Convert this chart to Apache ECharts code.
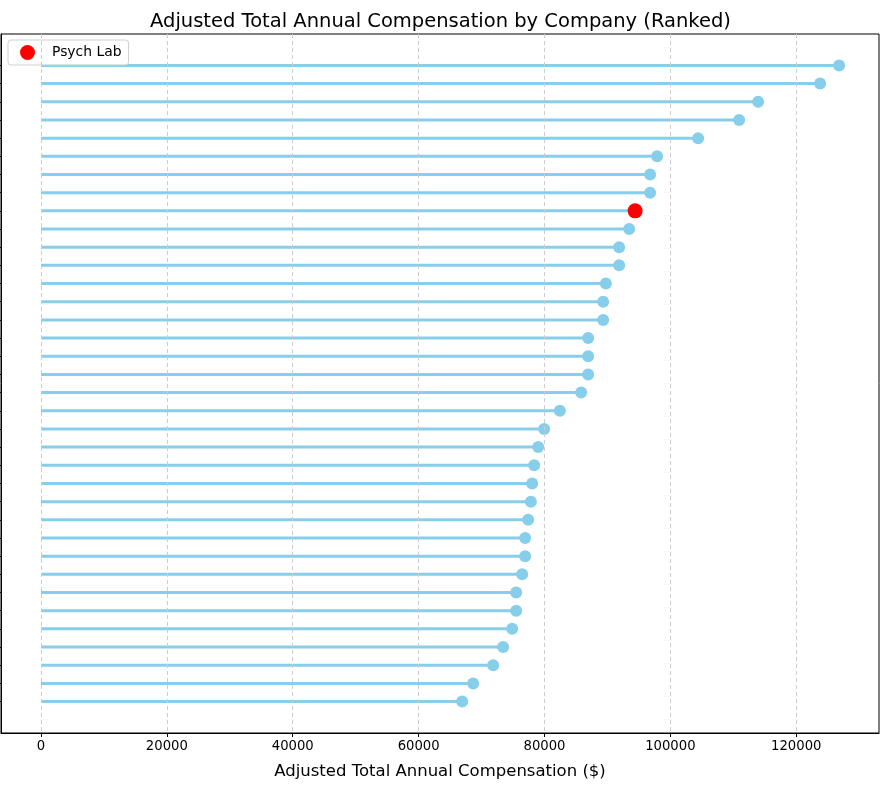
<!DOCTYPE html>
<html>
<head>
<meta charset="utf-8">
<script src="https://cdn.jsdelivr.net/npm/echarts@6/dist/echarts.min.js"></script>
<style>
  html, body { margin: 0; padding: 0; background: #fff; }
  #chart { width: 881px; height: 790px; }
</style>
</head>
<body>
<div id="chart"></div>
<script>
// adjusted compensation, ranked high -> low (top row first)
const compensation = [
  126810, 123792, 113943, 110925, 104412, 97899, 96787, 96787, 94405,
  93452, 91863, 91863, 89750, 89321, 89321, 86939, 86939, 86939,
  85827, 82443, 79949, 78996, 78361, 78043, 77837, 77408, 76931,
  76931, 76455, 75501, 75501, 74866, 73436, 71848, 68671, 66923
];
const highlightName = "Psych Lab";
const highlightRow = 8;
const xTicks = [0, 20000, 40000, 60000, 80000, 100000, 120000];
const rows = compensation.map((v, i) => i);

const stemColor = "#87CEEB";
const fontFamily = "DejaVu Sans";

const points = compensation.map((v, i) => [v, i]);
const regular = points.filter((p, i) => i !== highlightRow);
const highlighted = [points[highlightRow]];

const chart = echarts.init(document.getElementById("chart"));

chart.setOption({
  backgroundColor: "#fff",
  animation: false,
  title: {
    text: "Adjusted Total Annual Compensation by Company (Ranked)",
    left: "center",
    top: 7,
    textStyle: { fontFamily, fontSize: 19.5, fontWeight: "normal", color: "#000" },
  },
  legend: {
    data: [highlightName],
    left: 8,
    top: 40,
    padding: [5, 7, 5, 12],
    itemWidth: 15,
    itemHeight: 15,
    borderColor: "#d0d0d0",
    borderWidth: 1,
    borderRadius: 3,
    backgroundColor: "rgba(255,255,255,0.8)",
    textStyle: { fontFamily, fontSize: 13.9, color: "#000", padding: [0, 0, 0, 12] },
  },
  grid: {
    left: 1,
    right: 2,
    top: 34,
    bottom: 57,
    show: true,
    borderColor: "#000",
    borderWidth: 1,
    containLabel: false,
  },
  xAxis: {
    type: "value",
    min: -6350,
    max: 133150,
    name: "Adjusted Total Annual Compensation ($)",
    nameLocation: "middle",
    nameGap: 30,
    nameTextStyle: { fontFamily, fontSize: 16.5, color: "#000" },
    axisLine: { show: true, onZero: false, lineStyle: { color: "#000", width: 1 } },
    axisTick: { show: true, customValues: xTicks, length: 4, lineStyle: { color: "#000" } },
    axisLabel: {
      show: true,
      customValues: xTicks,
      margin: 7,
      fontFamily,
      fontSize: 13.2,
      color: "#000",
      formatter: (v) => String(v),
    },
    splitLine: { show: false },
  },
  yAxis: {
    type: "value",
    inverse: true,
    min: -1.73,
    max: 36.73,
    axisLine: { show: true, onZero: false, lineStyle: { color: "#000", width: 1 } },
    axisTick: { show: true, customValues: rows, length: 4, lineStyle: { color: "#000" } },
    axisLabel: { show: false },
    splitLine: { show: false },
  },
  series: [
    {
      // grid lines
      type: "line",
      data: [],
      z: 1,
      silent: true,
      markLine: {
        silent: true,
        symbol: ["none", "none"],
        label: { show: false },
        lineStyle: { color: "#cccccc", type: [4, 3], width: 1 },
        data: xTicks.map((v) => ({ xAxis: v })),
      },
    },
    {
      type: "custom",
      z: 2,
      silent: true,
      data: points,
      renderItem: (params, api) => {
        const start = api.coord([0, api.value(1)]);
        const end = api.coord([api.value(0), api.value(1)]);
        return {
          type: "line",
          shape: { x1: start[0], y1: start[1], x2: end[0], y2: end[1] },
          style: { stroke: stemColor, lineWidth: 3 },
        };
      },
    },
    {
      type: "scatter",
      name: "companies",
      z: 3,
      symbolSize: 12,
      itemStyle: { color: stemColor, opacity: 1 },
      data: regular,
    },
    {
      type: "scatter",
      name: highlightName,
      z: 4,
      symbolSize: 15,
      itemStyle: { color: "#ff0000", opacity: 1 },
      data: highlighted,
    },
  ],
});
</script>
</body>
</html>
